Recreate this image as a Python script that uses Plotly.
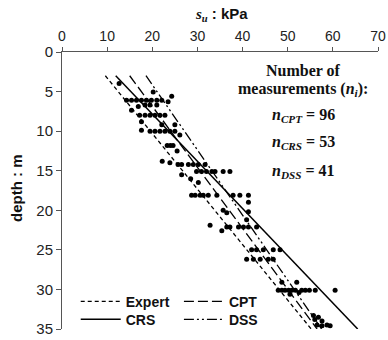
import plotly.graph_objects as go

# ---- data ----
line_names = ["Expert", "CPT", "CRS", "DSS"]
line_depth = [3.0, 35.0]
expert_su = [9.6, 55.2]
cpt_su = [15.0, 56.5]
crs_su = [11.9, 65.5]
dss_su = [18.6, 57.5]

meas_depth = [
    3.99, 5.04, 5.6, 6.1,
    6.1, 6.1, 6.1, 6.1, 6.1, 6.1, 6.1,
    6.3, 6.9, 6.7, 6.7, 6.7, 7.35,
    8.0, 8.0, 8.0, 8.0, 8.0, 8.0,
    8.8, 9.2, 9.9,
    10.0, 10.0, 10.0, 10.0, 10.0, 10.0,
    9.2, 10.5, 11.8, 11.8, 11.8, 12.5,
    13.8, 14.0,
    14.2, 14.2, 14.2, 14.2, 14.2, 14.2,
    15.1, 15.1, 15.1, 15.1, 15.1, 15.1, 15.1,
    15.5, 16.0, 16.5,
    18.1, 18.1, 18.1, 18.1, 18.1, 18.1, 18.1, 18.1, 18.1,
    19.0, 20.2, 20.0, 20.3, 21.2, 21.9,
    22.1, 22.1, 22.1, 22.1, 22.1, 22.1, 22.6,
    25.0, 25.0, 25.0, 25.0, 25.0,
    26.2, 26.2, 26.2, 26.2, 26.2,
    29.1, 29.1,
    30.1, 30.1, 30.1, 30.1, 30.1, 30.1, 30.1, 30.1, 30.1, 30.1, 30.1,
    30.6, 30.4,
    33.3, 33.5, 34.0, 34.5, 34.6, 34.5, 34.6, 33.8,
]
meas_su = [
    12.65, 20.2, 24.3, 14.3,
    15.4, 16.5, 17.6, 18.7, 19.8, 21.0, 22.1,
    23.5, 16.9, 18.4, 19.5, 21.0, 15.4,
    17.2, 18.4, 19.5, 20.6, 21.7, 22.8,
    17.6, 22.1, 17.6,
    19.5, 20.6, 21.7, 22.8, 23.9, 25.0,
    25.0, 26.1, 23.3, 24.0, 24.6, 25.5,
    22.2, 23.9,
    25.7, 26.5, 28.0, 29.1, 30.2, 31.7,
    29.8, 30.9, 32.0, 33.2, 33.9, 35.7, 37.2,
    26.5, 28.5, 30.2,
    28.7, 29.5, 30.6, 31.3, 32.4, 34.3, 37.9, 39.4, 41.3,
    41.3, 41.3, 35.7, 36.5, 40.9, 32.8,
    36.5, 37.2, 39.1, 40.2, 41.3, 43.1, 35.4,
    42.0, 43.1, 44.6, 46.8, 48.3,
    40.9, 42.4, 43.9, 45.7, 46.8,
    48.7, 52.0,
    47.9, 48.7, 49.4, 50.2, 50.9, 51.7, 53.1, 53.9, 54.8, 56.1, 60.5,
    50.5, 52.5,
    55.7, 56.8, 57.6, 58.7, 59.4, 56.5, 57.6, 56.0,
]

x_ticks = [0, 10, 20, 30, 40, 50, 60, 70]
y_ticks = [0, 5, 10, 15, 20, 25, 30, 35]
counts = {"CPT": 96, "CRS": 53, "DSS": 41}

fig = go.Figure()

fig.add_trace(go.Scatter(
    x=meas_su, y=meas_depth, mode="markers",
    marker=dict(color="black", size=5), showlegend=False, cliponaxis=False,
))

styles = {
    "Expert": dict(dash="4px,3px", width=1.3),
    "CPT": dict(dash="10px,4px", width=1.3),
    "CRS": dict(dash="solid", width=1.5),
    "DSS": dict(dash="10px,3px,2px,3px,2px,3px", width=1.3),
}
vals = {"Expert": expert_su, "CPT": cpt_su, "CRS": crs_su, "DSS": dss_su}
legend_ids = {"Expert": "legend", "CPT": "legend2", "CRS": "legend3", "DSS": "legend4"}
for nm in line_names:
    fig.add_trace(go.Scatter(
        x=vals[nm], y=line_depth, mode="lines", name=nm,
        line=dict(color="black", **styles[nm]), cliponaxis=False,
        legend=legend_ids[nm],
    ))

axcol = "#555555"
leg_font = dict(size=14, family="Liberation Sans, Arial", color="#111111", weight="bold")
PX0, PX1, PY0, PY1 = 62.3, 377.7, 51.7, 329.3


def px_x(p):
    return (p - PX0) / (PX1 - PX0)


def px_y(p):
    return 1 - (p - PY0) / (PY1 - PY0)


def leg(x_px, y_center_px):
    return dict(
        orientation="v", x=px_x(x_px), y=px_y(y_center_px), xanchor="left",
        yanchor="middle", bgcolor="rgba(0,0,0,0)", font=leg_font,
        itemwidth=40, tracegroupgap=0,
    )


fig.update_layout(
    width=388, height=340,
    margin=dict(l=PX0, r=388 - PX1, t=PY0, b=340 - PY1, autoexpand=False),
    paper_bgcolor="white", plot_bgcolor="white",
    font=dict(family="Liberation Sans, Arial", color="#222222"),
    xaxis=dict(
        range=[0, 70], side="top", tickvals=x_ticks, showgrid=False,
        zeroline=False, showline=True, linecolor=axcol, linewidth=1,
        ticks="outside", ticklen=4, tickcolor=axcol, tickfont=dict(size=14),
        automargin=False,
    ),
    yaxis=dict(
        range=[35, 0], tickvals=y_ticks, showgrid=False, zeroline=False,
        showline=True, linecolor=axcol, linewidth=1,
        ticks="outside", ticklen=5, tickcolor=axcol, tickfont=dict(size=15),
        automargin=False,
    ),
    legend=leg(76, 302),
    legend2=leg(179, 302),
    legend3=leg(76, 320),
    legend4=leg(179, 320),
)

# axis titles
fig.add_annotation(
    text='<span style="font-family:Liberation Serif"><b><i>s<sub>u</sub></i></b></span><b> : kPa</b>',
    xref="paper", yref="paper", x=px_x(221), y=1.0, yshift=38, showarrow=False,
    xanchor="center", yanchor="middle", font=dict(size=15, color="#111111"),
)
fig.add_annotation(
    text="<b>depth : m</b>", xref="paper", yref="paper",
    x=0, xshift=-46, y=px_y(188), textangle=-90, showarrow=False,
    xanchor="center", yanchor="middle", font=dict(size=15, color="#111111"),
)

# count text block
serif = "Liberation Serif, Times New Roman"
block = [
    ("<b>Number of</b>", 70),
    ("<b>measurements (<i>n<sub>i</sub></i>):</b>", 89),
    (f"<b><i>n<sub>CPT</sub></i> = {counts['CPT']}</b>", 115),
    (f"<b><i>n<sub>CRS</sub></i> = {counts['CRS']}</b>", 142),
    (f"<b><i>n<sub>DSS</sub></i> = {counts['DSS']}</b>", 171),
]
for txt, py in block:
    fig.add_annotation(
        text=txt, xref="paper", yref="paper",
        x=px_x(303), y=px_y(py),
        showarrow=False, xanchor="center", yanchor="middle",
        font=dict(family=serif, size=16, color="#111111"),
    )

fig.write_html(
    "out.html",
    config={"displayModeBar": False},
    post_script="document.body.style.margin='0px';",
)
